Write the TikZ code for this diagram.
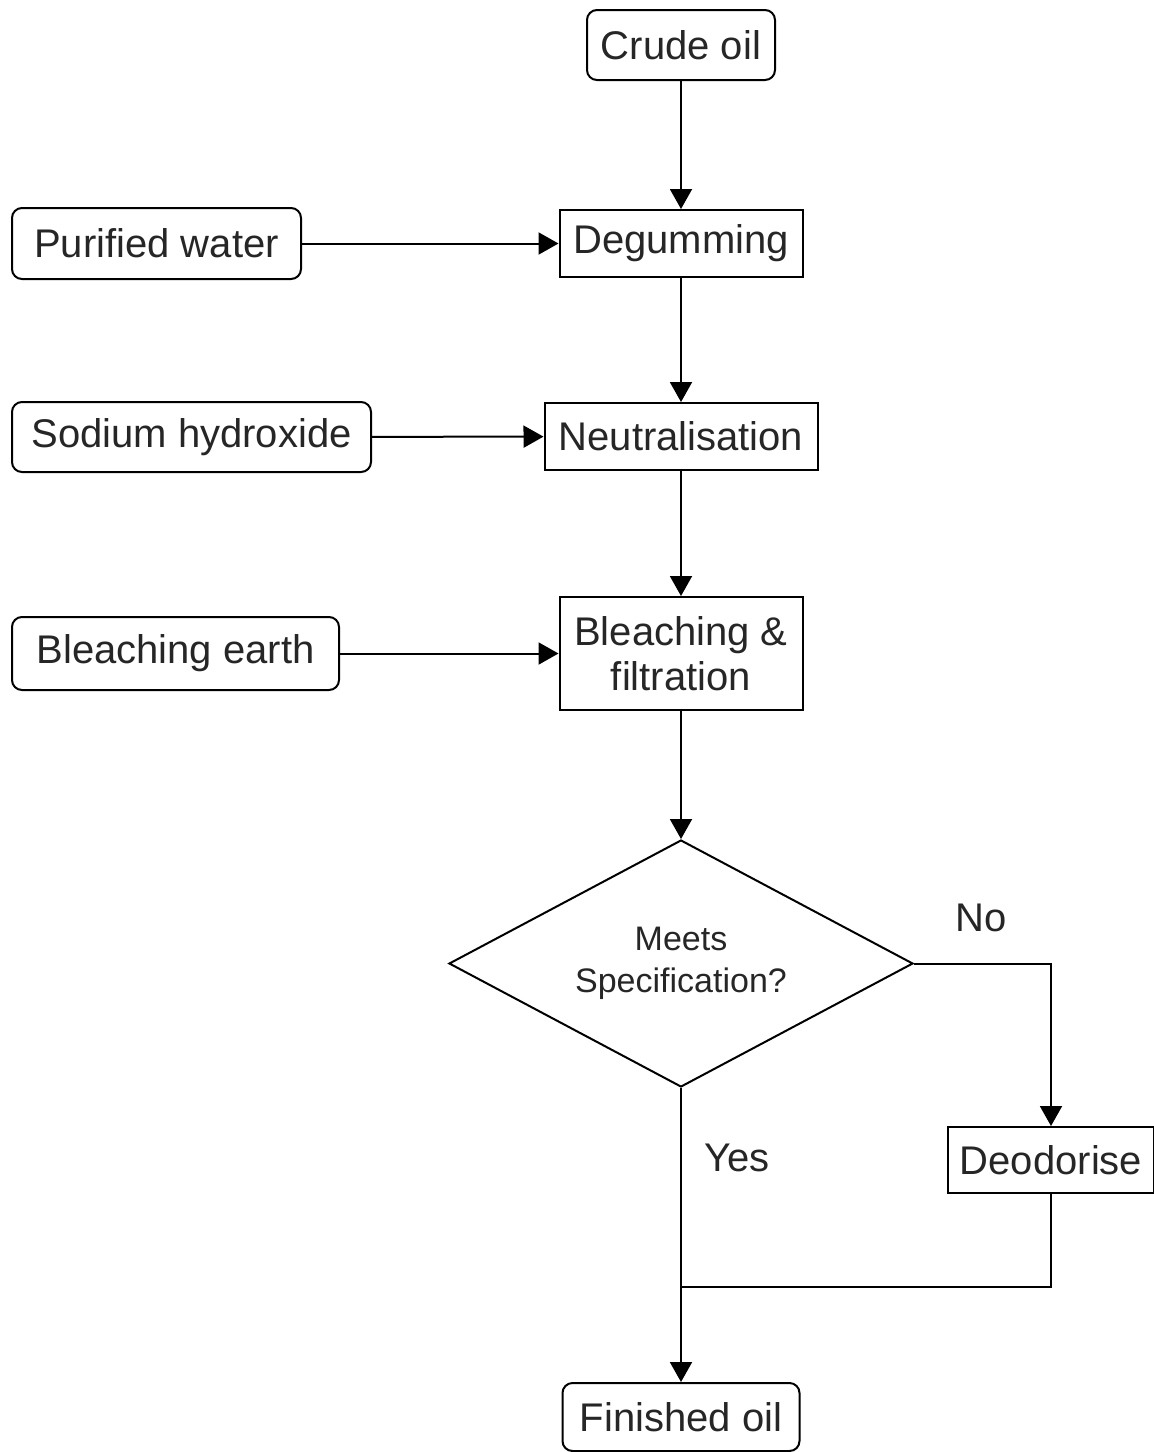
\documentclass[tikz,border=0pt]{standalone}
\usepackage{fontspec}
\setmainfont{Liberation Sans}
\usetikzlibrary{shapes.geometric,arrows.meta}
\begin{document}
\begin{tikzpicture}[x=0.5pt,y=-0.5pt,
  every node/.style={font=\fontsize{20pt}{22.5pt}\selectfont, text=black!85, inner sep=0pt},
  rbox/.style={draw, line width=1pt, rounded corners=5pt, align=center},
  sbox/.style={draw, line width=1pt, align=center},
  conn/.style={line width=1pt},
  arr/.style={conn, -{Triangle[length=10pt,width=11pt]}},
  lbl/.style={font=\fontsize{20pt}{22.5pt}\selectfont}
]
\useasboundingbox (0,0) rectangle (1154,1452);
\node[rbox, minimum width=94pt, minimum height=35pt] (crude) at (681,45) {Crude oil};
\node[sbox, minimum width=121.5pt, minimum height=33.5pt] (degum) at (681,243.5) {Degumming};
\node[rbox, minimum width=144.5pt, minimum height=35.5pt] (water) at (156.5,243.5) {Purified water};
\node[rbox, minimum width=179.5pt, minimum height=35pt] (naoh) at (191.5,437) {Sodium hydroxide};
\node[sbox, minimum width=136.5pt, minimum height=33.5pt] (neut) at (681,436.5) {Neutralisation};
\node[rbox, minimum width=163.5pt, minimum height=36.5pt] (earth) at (175.5,653.5) {Bleaching earth};
\node[sbox, minimum width=121.5pt, minimum height=56.5pt] (bleach) at (681,653.5) {Bleaching \&\\filtration};
\node[draw, line width=1pt, diamond, minimum width=232pt, minimum height=123.5pt] (spec) at (681,963.5) {};
\node[align=center, font=\fontsize{17pt}{21pt}\selectfont] (spectext) at (681,963) {Meets\\Specification?};
\node[sbox, minimum width=103pt, minimum height=33pt] (deo) at (1051,1160) {Deodorise};
\node[rbox, minimum width=118.5pt, minimum height=34pt] (fin) at (681,1417) {Finished oil};
\coordinate (merge) at (681,1287);
\coordinate (nocorner) at (1051,963.5);
\node[lbl] (yes) at (737,1158) {Yes};
\node[lbl] (no) at (981,918) {No};
\draw[arr] (crude) -- (degum);
\draw[arr] (degum) -- (neut);
\draw[arr] (neut) -- (bleach);
\draw[arr] (bleach) -- (spec);
\draw[arr] (water) -- (degum);
\draw[arr] (naoh) -- (neut);
\draw[arr] (earth) -- (bleach);
\draw[arr] (spec.east) -- (nocorner) -- (deo.north);
\draw[arr] (spec.south) -- (fin.north);
\draw[conn] (deo.south) |- (merge);
\end{tikzpicture}
\end{document}
